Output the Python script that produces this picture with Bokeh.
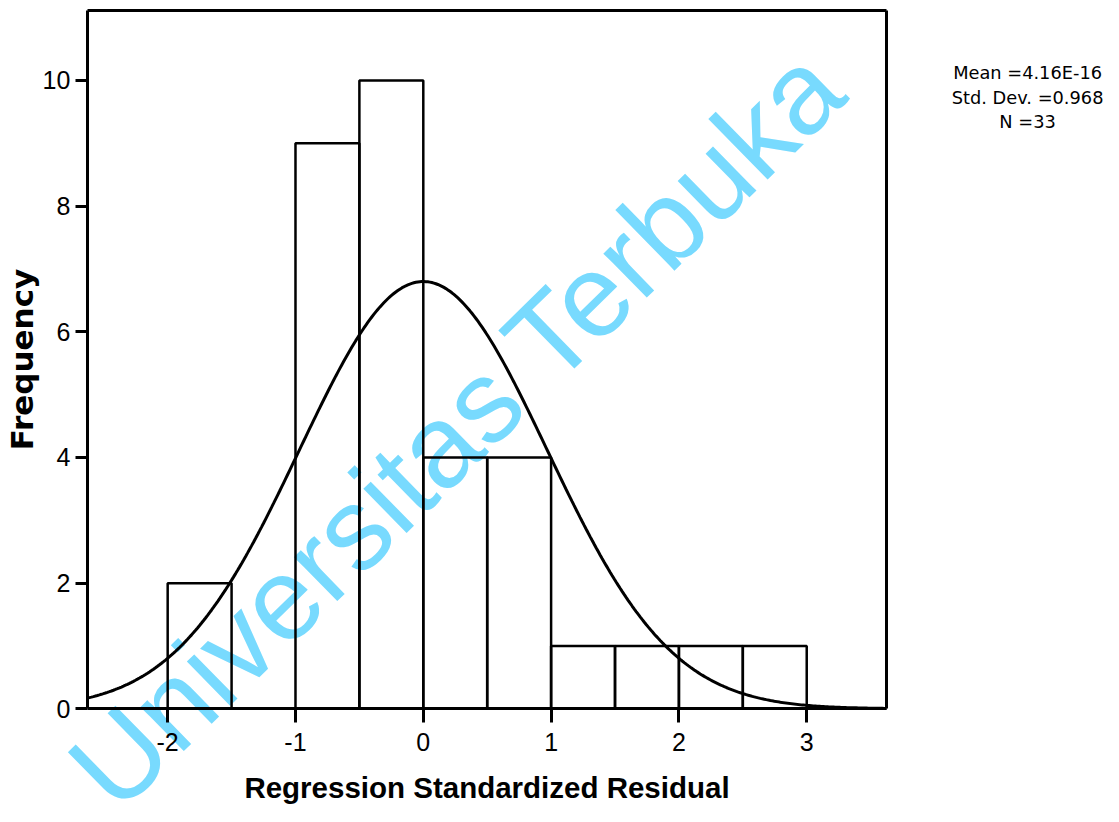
import numpy as np
from bokeh.plotting import figure
from bokeh.models import Range1d, Label, FixedTicker, ColumnDataSource, LinearAxis
from bokeh.embed import file_html
from bokeh.resources import INLINE

# Histogram data (bin edges and counts)
bin_left = [-2.0, -1.5, -1.0, -0.5, 0.0, 0.5, 1.0, 1.5, 2.0, 2.5]
bin_right = [-1.5, -1.0, -0.5, 0.0, 0.5, 1.0, 1.5, 2.0, 2.5, 3.0]
counts = [2, 0, 9, 10, 4, 4, 1, 1, 1, 1]

# Summary statistics printed on the chart
stat_mean = 4.16e-16
stat_sd = 0.968
stat_n = 33
bin_width = 0.5

x_ticks = [-2, -1, 0, 1, 2, 3]
y_ticks = [0, 2, 4, 6, 8, 10]
stat_lines = ["Mean =4.16E-16", "Std. Dev. =0.968", "N =33"]

# plot box (data extent of the axes box)
X0, X1 = -2.628, 3.624
Y0, Y1 = 0.0, 11.11

# The frame covers the whole canvas so that the watermark is not clipped;
# the axes are placed at the plot box with fixed_location.
p = figure(width=1103, height=806, output_backend="svg", toolbar_location=None,
           x_range=Range1d(-3.308, 5.322), y_range=Range1d(-1.555, 11.273),
           x_axis_location=None, y_axis_location=None,
           min_border=0, min_border_left=0, min_border_right=0,
           min_border_top=0, min_border_bottom=0)
p.grid.visible = False
p.outline_line_color = None

# watermark beneath everything
wm = Label(x=-2.613, y=-1.245, text="Universitas Terbuka", angle=44.4, angle_units="deg",
           text_font="Liberation Sans", text_font_size="117px", text_color="#78DAFE",
           text_align="left", text_baseline="alphabetic", level="underlay")
p.add_layout(wm)

src = ColumnDataSource(dict(left=bin_left, right=bin_right, top=counts, bottom=[0]*len(counts)))
p.quad(left="left", right="right", top="top", bottom="bottom", source=src,
       fill_color="white", fill_alpha=0, line_color="black", line_width=2.5)

# fitted normal curve from the printed statistics
xs = np.linspace(X0, X1, 400)
ys = stat_n * bin_width / (stat_sd * np.sqrt(2 * np.pi)) * np.exp(-0.5 * ((xs - stat_mean) / stat_sd) ** 2)
p.line(xs, ys, line_color="black", line_width=3)


def style(ax):
    ax.axis_line_color = "black"
    ax.axis_line_width = 3
    ax.major_tick_line_color = "black"
    ax.major_tick_line_width = 3
    ax.minor_tick_line_color = None
    ax.major_tick_in = 0
    ax.major_label_text_font = "Liberation Sans"
    ax.major_label_text_font_size = "25px"
    ax.major_label_text_color = "black"
    ax.axis_label_text_font_style = "bold"
    ax.axis_label_text_color = "black"


xaxis = LinearAxis(fixed_location=Y0, bounds=(X0, X1), ticker=FixedTicker(ticks=x_ticks))
style(xaxis)
xaxis.major_label_overrides = {t: str(t) for t in x_ticks}
xaxis.major_tick_out = 14
xaxis.major_label_standoff = 10
xaxis.axis_label = "Regression Standardized Residual"
xaxis.axis_label_text_font = "Liberation Sans"
xaxis.axis_label_text_font_size = "29.5px"
xaxis.axis_label_standoff = 17
p.add_layout(xaxis, "below")

yaxis = LinearAxis(fixed_location=X0, bounds=(Y0, Y1), ticker=FixedTicker(ticks=y_ticks))
style(yaxis)
yaxis.major_label_overrides = {t: str(t) for t in y_ticks}
yaxis.major_tick_out = 12
yaxis.major_label_standoff = 5
yaxis.axis_label = "Frequency"
yaxis.axis_label_text_font = "DejaVu Sans"
yaxis.axis_label_text_font_size = "31px"
yaxis.axis_label_standoff = 0
p.add_layout(yaxis, "left")

# top and right sides of the box
for loc, side, bnds in ((Y1, "above", (X0, X1)), (X1, "right", (Y0, Y1))):
    ax = LinearAxis(fixed_location=loc, bounds=bnds, ticker=FixedTicker(ticks=[]))
    ax.axis_line_color = "black"
    ax.axis_line_width = 3
    ax.major_tick_line_color = None
    ax.minor_tick_line_color = None
    ax.major_label_text_font_size = "0px"
    p.add_layout(ax, side)

# statistics text at the right
stat_y = [10.127, 9.729, 9.347]
for s, yy in zip(stat_lines, stat_y):
    lab = Label(x=4.728, y=yy, text=s, text_font="DejaVu Sans", text_font_size="17.8px",
                text_color="black", text_align="center", text_baseline="middle")
    p.add_layout(lab)

open("out.html", "w").write(file_html(p, INLINE))
